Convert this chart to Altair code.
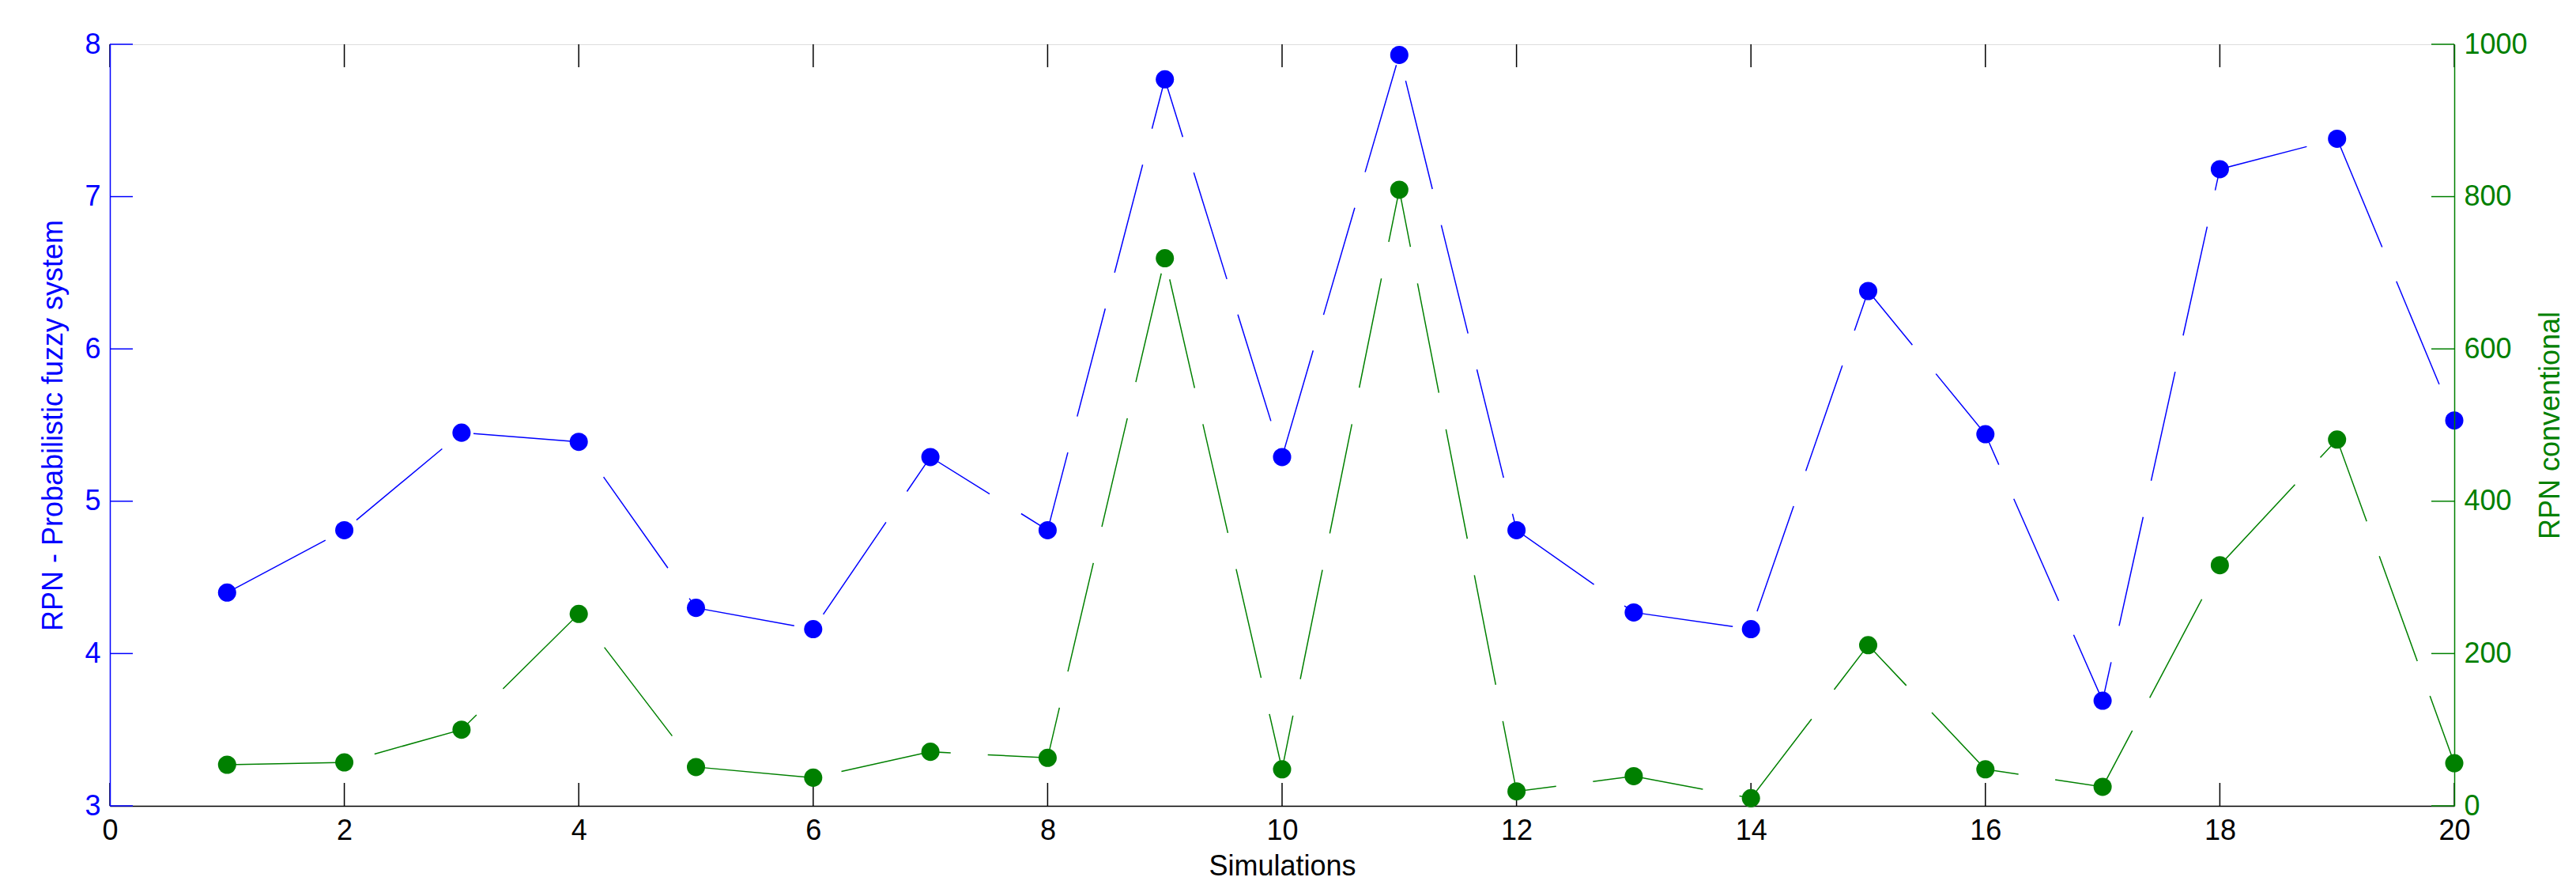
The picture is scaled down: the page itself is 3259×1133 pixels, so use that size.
import altair as alt
import pandas as pd

# ---- data ----
simulations = list(range(1, 21))
rpn_fuzzy = [4.40, 4.81, 5.45, 5.39, 4.30, 4.16, 5.29, 4.81, 7.77, 5.29,
             7.93, 4.81, 4.27, 4.16, 6.38, 5.44, 3.69, 7.18, 7.38, 5.53]
rpn_conv = [54, 57, 100, 252, 51, 37, 71, 63, 719, 48,
            809, 19, 39, 10, 211, 48, 25, 316, 481, 56]
x_ticks = [0, 2, 4, 6, 8, 10, 12, 14, 16, 18, 20]
left_ticks = [3, 4, 5, 6, 7, 8]
right_ticks = [0, 200, 400, 600, 800, 1000]

BLUE = "#0000FF"
GREEN = "#008000"
FONT = "Liberation Sans"
W, H = 2966, 963
TICK = 29

df = pd.DataFrame({"sim": simulations, "fuzzy": rpn_fuzzy, "conv": rpn_conv})
dfx = pd.DataFrame({"t": x_ticks})
dfl = pd.DataFrame({"t": left_ticks})
dfr = pd.DataFrame({"t": right_ticks})

x_scale = alt.Scale(domain=[0, 20], nice=False, zero=False)
x_axis = alt.Axis(values=x_ticks, title="Simulations", grid=False, ticks=False,
                  domainColor="black", domainWidth=1.5, labelColor="black",
                  titleColor="black", labelFont=FONT, titleFont=FONT,
                  labelFontSize=36, titleFontSize=36, titleFontWeight="normal",
                  labelPadding=14, titlePadding=10, labelFlush=False,
                  labelOverlap=False, format="d")


def xenc(field):
    return alt.X(f"{field}:Q", scale=x_scale, axis=x_axis)


l_scale = alt.Scale(domain=[3, 8], nice=False, zero=False)
l_axis = alt.Axis(values=left_ticks, orient="left",
                  title="RPN - Probabilistic fuzzy system", grid=False,
                  ticks=False, domainColor=BLUE, domainWidth=1.5,
                  labelColor=BLUE, titleColor=BLUE, labelFont=FONT,
                  titleFont=FONT, labelFontSize=36, titleFontSize=36,
                  titleFontWeight="normal", labelPadding=12, titlePadding=20,
                  labelOverlap=False, zindex=1, format="d")

r_scale = alt.Scale(domain=[0, 1000], nice=False, zero=False)
r_axis = alt.Axis(values=right_ticks, orient="right",
                  title="RPN conventional", grid=False, ticks=False,
                  domainColor=GREEN, domainWidth=1.5, labelColor=GREEN,
                  titleColor=GREEN, labelFont=FONT, titleFont=FONT,
                  labelFontSize=36, titleFontSize=36, titleFontWeight="normal",
                  labelPadding=12, titlePadding=12, titleAngle=270,
                  titleBaseline="top", labelOverlap=False, zindex=1, format="d")

base = alt.Chart(df)

blue_line = base.mark_line(color=BLUE, strokeWidth=1.5, strokeDash=[141, 47]).encode(
    x=xenc("sim"), y=alt.Y("fuzzy:Q", scale=l_scale, axis=l_axis))
blue_pts = base.mark_circle(color=BLUE, size=530, opacity=1).encode(
    x=xenc("sim"), y=alt.Y("fuzzy:Q", scale=l_scale, axis=l_axis))
blue_ticks = alt.Chart(dfl).mark_rule(color=BLUE, strokeWidth=1.5).encode(
    y=alt.Y("t:Q", scale=l_scale, axis=l_axis),
    x=alt.value(0), x2=alt.value(TICK))

green_line = base.mark_line(color=GREEN, strokeWidth=1.5, strokeDash=[141, 47]).encode(
    x=xenc("sim"), y=alt.Y("conv:Q", scale=r_scale, axis=r_axis))
green_pts = base.mark_circle(color=GREEN, size=530, opacity=1).encode(
    x=xenc("sim"), y=alt.Y("conv:Q", scale=r_scale, axis=r_axis))
green_ticks = alt.Chart(dfr).mark_rule(color=GREEN, strokeWidth=1.5).encode(
    y=alt.Y("t:Q", scale=r_scale, axis=r_axis),
    x=alt.value(W - TICK), x2=alt.value(W))

top_ticks = alt.Chart(dfx).mark_rule(color="black", strokeWidth=1.5).encode(
    x=xenc("t"), y=alt.value(0), y2=alt.value(TICK))
bottom_ticks = alt.Chart(dfx).mark_rule(color="black", strokeWidth=1.5).encode(
    x=xenc("t"), y=alt.value(H), y2=alt.value(H - TICK))

left_group = alt.layer(blue_ticks, blue_line, blue_pts)
right_group = alt.layer(green_ticks, green_line, green_pts)

chart = alt.layer(top_ticks, bottom_ticks, left_group, right_group).resolve_scale(
    y="independent"
).properties(
    width=W, height=H,
    autosize=alt.AutoSizeParams(type="none"),
    padding={"left": 131, "top": 48, "right": 140, "bottom": 100},
).configure_view(stroke="black", strokeWidth=1.5).configure(background="white")

chart.save("out.html", embed_options={"renderer": "svg", "actions": False})
